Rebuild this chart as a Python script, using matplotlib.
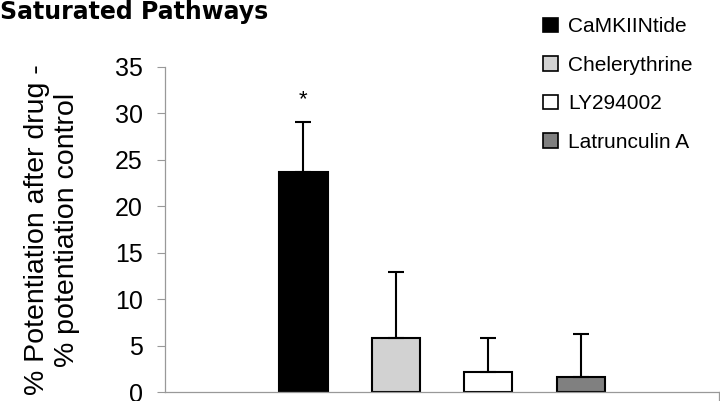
import matplotlib.pyplot as plt
from matplotlib.patches import Patch

# data
drugs = ["CaMKIINtide", "Chelerythrine", "LY294002", "Latrunculin A"]
means = [23.7, 5.8, 2.1, 1.65]
errors = [5.3, 7.1, 3.7, 4.55]
colors = ["#000000", "#d2d2d2", "#ffffff", "#808080"]
slots = [1, 2, 3, 4]   # 6 category slots, first and last empty
yticks = [0, 5, 10, 15, 20, 25, 30, 35]

plt.rcParams['font.family'] = ['Liberation Sans', 'DejaVu Sans']

fig = plt.figure(figsize=(7.2, 4.01), dpi=100)
ax = fig.add_axes([0.229, 0.0224, 0.770, 0.8113])

ax.bar(slots, means, width=0.52, color=colors, edgecolor="black", linewidth=1.5, zorder=2)
ax.errorbar(slots, means, yerr=[[0] * 4, errors], fmt="none", ecolor="black",
            elinewidth=1.5, capsize=6, capthick=1.5, zorder=3)

ax.text(slots[0], means[0] + errors[0] + 2.5, "*", ha="center", va="center", fontsize=16)

ax.set_xlim(-0.5, 5.5)
ax.set_ylim(0, 35)
ax.set_yticks(yticks)
ax.set_xticks([])
ax.tick_params(axis="y", direction="out", length=6, width=0.8, color="#999999",
               labelsize=18, pad=10)
for s in ["top", "right"]:
    ax.spines[s].set_visible(False)
for s in ["left", "bottom"]:
    ax.spines[s].set_color("#999999")
    ax.spines[s].set_linewidth(0.9)
# tick at the right end of the category axis
ax.plot([5.5, 5.5], [0, -1.2], color="#999999", lw=0.9, clip_on=False)

ax.set_ylabel("% Potentiation after drug -\n% potentiation control", fontsize=20.5,
              linespacing=1.2)
ax.yaxis.set_label_coords(-0.153, 0.498)

fig.text(0.0, 0.953, "Saturated Pathways", fontsize=17, fontweight="bold",
         family="DejaVu Sans", va="baseline", ha="left")

handles = [Patch(facecolor=c, edgecolor="black", linewidth=1.2) for c in colors]
fig.legend(handles, drugs, loc="upper left", bbox_to_anchor=(0.734, 0.993), frameon=False,
           fontsize=15, handlelength=0.7, handleheight=0.7, handletextpad=0.5,
           labelspacing=0.93, borderaxespad=0.3)

fig.savefig("out.png", dpi=100)
